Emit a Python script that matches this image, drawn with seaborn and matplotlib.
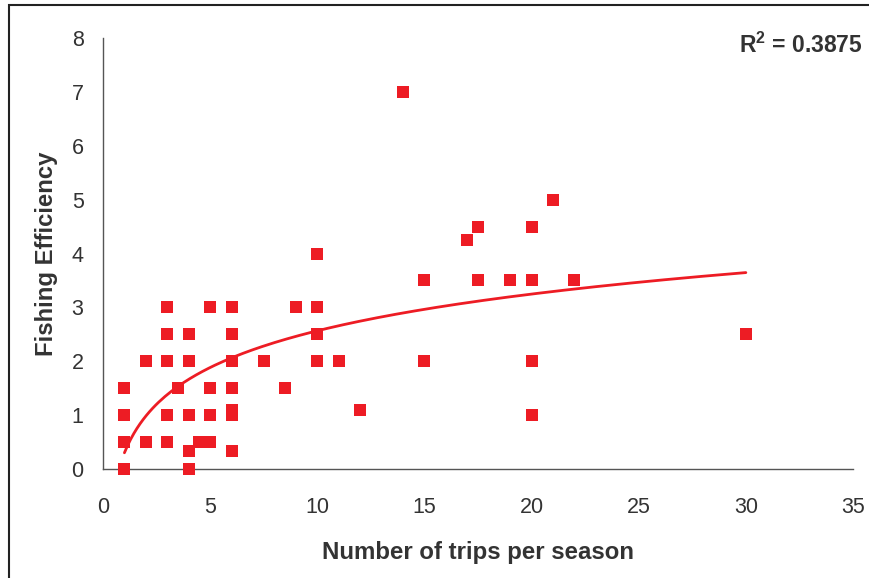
import numpy as np
import pandas as pd
import matplotlib
matplotlib.use("Agg")
import matplotlib.pyplot as plt
import seaborn as sns
from matplotlib.patches import Rectangle

# Trips per season and fishing efficiency for each fisher
trips = [1, 1, 1, 1,
         2, 2,
         3, 3, 3, 3, 3,
         3.5,
         4, 4, 4, 4, 4,
         4.5,
         5, 5, 5, 5,
         6, 6, 6, 6, 6, 6, 6,
         7.5, 8.5, 9,
         10, 10, 10, 10,
         11, 12, 14,
         15, 15,
         17, 17.5, 17.5, 19,
         20, 20, 20, 20,
         21, 22, 30]
efficiency = [0, 0.5, 1, 1.5,
              0.5, 2,
              0.5, 1, 2, 2.5, 3,
              1.5,
              0, 0.33, 1, 2, 2.5,
              0.5,
              0.5, 1, 1.5, 3,
              0.33, 1, 1.1, 1.5, 2, 2.5, 3,
              2, 1.5, 3,
              2, 2.5, 3, 4,
              2, 1.1, 7,
              2, 3.5,
              4.25, 3.5, 4.5, 3.5,
              1, 2, 3.5, 4.5,
              5, 3.5, 2.5]
r2_label = "R$^\\mathbf{2}$ = 0.3875"

x_ticks = [0, 5, 10, 15, 20, 25, 30, 35]
y_ticks = [0, 1, 2, 3, 4, 5, 6, 7, 8]

df = pd.DataFrame({"trips": trips, "efficiency": efficiency})

# Logarithmic trend line fitted to the data
a, b = np.polyfit(np.log(df["trips"]), df["efficiency"], 1)
trend_x = np.linspace(min(trips), max(trips), 200)
trend = pd.DataFrame({"trips": trend_x, "efficiency": a * np.log(trend_x) + b})

sns.set_theme(style="white")
plt.rcParams["font.family"] = ["Liberation Sans", "DejaVu Sans"]
plt.rcParams["mathtext.fontset"] = "custom"
plt.rcParams["mathtext.bf"] = "Liberation Sans:bold"
plt.rcParams["mathtext.rm"] = "Liberation Sans"

red = "#ED1C24"
ink = "#333333"

fig = plt.figure(figsize=(8.69, 5.78), dpi=100)
ax = fig.add_axes([103 / 869, 1 - 469 / 578, 750 / 869, 431 / 578])

sns.scatterplot(data=df, x="trips", y="efficiency", marker="s", s=70,
                color=red, edgecolor=red, linewidth=0, ax=ax, zorder=3,
                clip_on=False)
sns.lineplot(data=trend, x="trips", y="efficiency", color=red, linewidth=2,
             ax=ax, zorder=2)

ax.set_xlim(0, 35)
ax.set_ylim(0, 8)
ax.set_xticks(x_ticks)
ax.set_yticks(y_ticks)
ax.set_xlabel("Number of trips per season", fontsize=17.3, fontweight="bold",
              color=ink, labelpad=17)
ax.set_ylabel("Fishing Efficiency", fontsize=17.2, fontweight="bold",
              color=ink, labelpad=10)

for side in ("top", "right"):
    ax.spines[side].set_visible(False)
for side in ("left", "bottom"):
    ax.spines[side].set_color("#555555")
    ax.spines[side].set_linewidth(1)

ax.tick_params(axis="both", which="major", direction="out", length=6,
               width=1, color="#555555", labelsize=15.5, labelcolor=ink)
ax.tick_params(axis="x", pad=14)
ax.tick_params(axis="y", pad=8)

fig.text(863 / 869, 1 - 53 / 578, r2_label, ha="right", va="baseline",
         fontsize=16.5, fontweight="bold", color=ink)

# Chart area frame
fig.patches.append(Rectangle((9 / 869, -0.05), 1.2, 1.05 - 5 / 578,
                             transform=fig.transFigure, fill=False,
                             edgecolor="#222222", linewidth=1.5))

fig.savefig("out.png", dpi=100)
